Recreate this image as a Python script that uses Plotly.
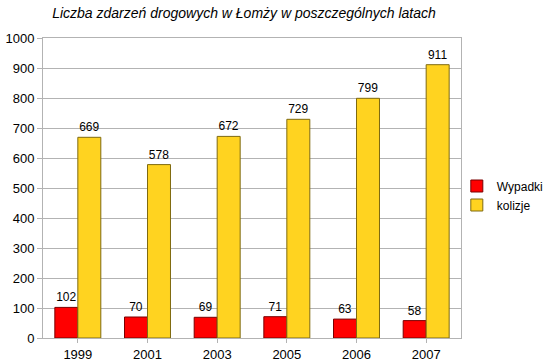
import plotly.graph_objects as go

years = ["1999", "2001", "2003", "2005", "2006", "2007"]
wypadki = [102, 70, 69, 71, 63, 58]
kolizje = [669, 578, 672, 729, 799, 911]
y_ticks = list(range(0, 1001, 100))

fig = go.Figure()
fig.add_trace(go.Bar(
    x=years, y=wypadki, name="Wypadki",
    marker=dict(color="#ff0000", line=dict(color="#7a0000", width=1)),
    text=[str(v) for v in wypadki], textposition="outside",
    textfont=dict(color="black", size=12), cliponaxis=False,
))
fig.add_trace(go.Bar(
    x=years, y=kolizje, name="kolizje",
    marker=dict(color="#ffd320", line=dict(color="#7f6a10", width=1)),
    text=[str(v) for v in kolizje], textposition="outside",
    textfont=dict(color="black", size=12), cliponaxis=False,
))

W, H = 550, 364
fig.update_layout(
    width=W, height=H,
    margin=dict(l=43, r=89, t=38, b=26, autoexpand=False),
    paper_bgcolor="white", plot_bgcolor="white",
    font=dict(family="Liberation Sans, Arial, sans-serif", size=13, color="black"),
    title=dict(
        text="<i>Liczba zdarzeń drogowych w Łomży w poszczególnych latach</i>",
        xref="container", x=244 / W, xanchor="center",
        yref="container", y=1 - 13 / H, yanchor="middle",
        font=dict(size=14, color="black"),
    ),
    barmode="group", bargap=0.34, bargroupgap=0,
    legend=dict(
        x=0.99, xanchor="left", y=0.475, yanchor="middle",
        font=dict(size=12), tracegroupgap=0, itemwidth=30,
        bgcolor="rgba(0,0,0,0)",
    ),
    showlegend=True,
)
fig.update_yaxes(
    range=[0, 1000], tickvals=y_ticks, showgrid=True, gridcolor="#b3b3b3",
    showline=True, linecolor="#b3b3b3", mirror=True,
    ticks="outside", ticklen=5, tickcolor="#b3b3b3",
    zeroline=False, tickfont=dict(size=13), automargin=False,
)
fig.update_xaxes(
    showline=True, linecolor="#b3b3b3", mirror=True,
    ticks="outside", ticklen=4, tickcolor="#b3b3b3",
    tickfont=dict(size=13), type="category", automargin=False,
)
fig.write_html(
    "out.html",
    config={"displayModeBar": False},
    post_script="document.body.style.margin='0';document.body.style.overflow='hidden';",
)
